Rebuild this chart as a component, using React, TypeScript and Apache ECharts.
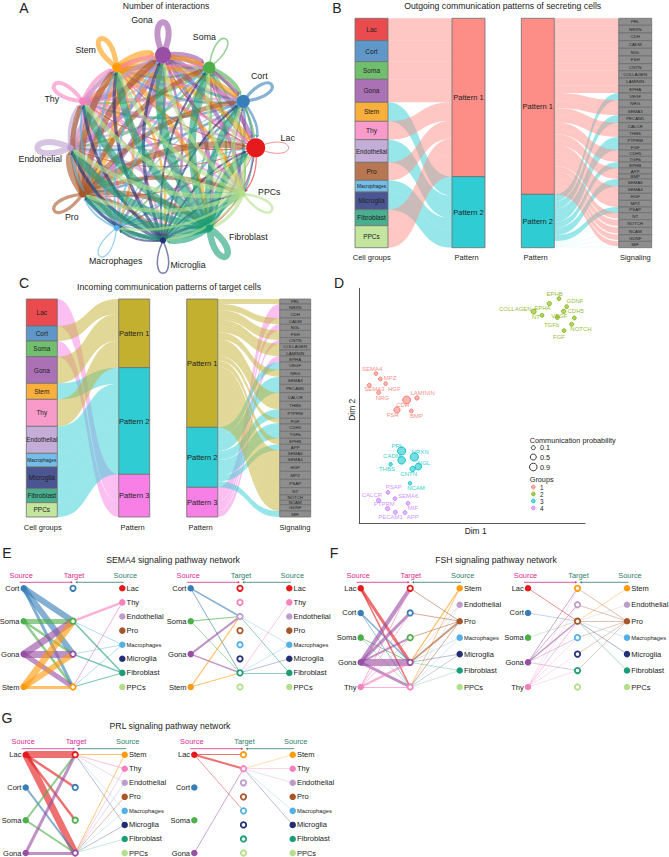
import React, { useEffect, useRef } from "react";
import * as echarts from "echarts";

const FONT = "Liberation Sans";
const cellNames = ["Lac", "Cort", "Soma", "Gona", "Stem", "Thy", "Endothelial", "Pro", "Macrophages", "Microglia", "Fibroblast", "PPCs"];
const cellColors: Record<string, string> = {
  Lac: "#E41A1C", Cort: "#377EB8", Soma: "#4DAF4A", Gona: "#984EA3", Stem: "#FF9A0C", Thy: "#F781BF",
  Endothelial: "#BC9DCC", Pro: "#A65628", Macrophages: "#54B0E4", Microglia: "#222F75", Fibroblast: "#1B9E77", PPCs: "#B2DF8A",
};
const cellTints: Record<string, string> = {
  Lac: "#EA4B4E", Cort: "#5F98C8", Soma: "#71BF6E", Gona: "#AB71B5", Stem: "#F9AF3C", Thy: "#F89BCB",
  Endothelial: "#C4ADD6", Pro: "#B77851", Macrophages: "#74BDE8", Microglia: "#4A5592", Fibroblast: "#48AF8F", PPCs: "#C3E59E",
};

// Panel A: interaction widths, source row -> target column
const interactionWidths = [
  [0.8, 1.2, 1.2, 1.8, 1.2, 1.2, 1.2, 1.2, 0.8, 0.8, 1.2, 1.2],
  [2.5, 3.2, 2.5, 3.2, 2.5, 2.5, 2.5, 2.5, 2, 1.5, 2.5, 2],
  [2, 4, 1.5, 4, 2.5, 2.5, 2.5, 3.2, 1.5, 2, 2.5, 2],
  [5, 4, 5, 6, 5, 5, 5, 5, 2.5, 2.5, 4, 4],
  [5, 5, 5, 6.5, 5, 4, 4, 6.5, 2.5, 2.5, 5, 4],
  [3.2, 2.5, 2.5, 4, 4, 4, 4, 4, 2.5, 2, 4, 3.2],
  [2.5, 2.5, 2.5, 4, 4, 4, 6, 4, 2.5, 2, 4, 2.5],
  [6.5, 5, 5, 6.5, 6.5, 5, 6.5, 3.2, 4, 3.2, 5, 4],
  [1.2, 1.2, 2, 2, 2, 2, 2, 2, 1.2, 1.2, 1.2, 1.2],
  [2, 2, 2, 3.2, 3.2, 3.2, 3.2, 3.2, 2, 1.5, 2.5, 2],
  [7.5, 6.5, 7.5, 9, 7.5, 7.5, 7.5, 9, 5, 5, 6.5, 6.5],
  [4, 4, 4, 4, 4, 4.5, 4.5, 4, 2.5, 2.5, 3.2, 2.5],
];
const nodeSizes = [19, 13, 12, 16, 9, 7.5, 6.5, 7, 6, 6, 7, 5];
const labelOffsets = [[32, -10], [16, -25], [-5, -30], [-21, -35], [-31, -17], [-31, -2], [-30, 11], [-11, 23], [-1, 33], [25, 25], [39, 9], [26, -2]];

// Panel B: outgoing
const outCells: [string, number, number][] = [
  ["Lac", 67, 1], ["Cort", 63, 1], ["Soma", 53, 1], ["Gona", 69, 1], ["Stem", 57, 2], ["Thy", 55, 1],
  ["Endothelial", 68, 2], ["Pro", 54, 1], ["Macrophages", 35, 2], ["Microglia", 53, 2], ["Fibroblast", 48, 1], ["PPCs", 66, 1],
];
const outSignals: [string, number, number][] = [
  ["PRL", 21, 0], ["NRXN", 23, 0], ["CDH", 23, 0], ["CADM", 23, 0], ["NGL", 23, 0], ["FSH", 23, 0], ["CNTN", 21, 0],
  ["COLLAGEN", 22, 0], ["LAMININ", 23, 0], ["EPHA", 22, 0], ["VEGF", 21, 21], ["NRG", 22, 0], ["SEMA3", 23, 0],
  ["PECAM1", 23, 23], ["CALCR", 23, 0], ["THBS", 20, 0], ["PTPRM", 21, 21], ["FGF", 18, 18], ["CDH5", 19, 0], ["TGFb", 17, 0],
  ["EPHB", 18, 18], ["APP", 18, 0], ["BMP", 15, 0], ["SEMA6", 22, 22], ["SEMA4", 21, 0], ["HGF", 21, 0], ["MPZ", 20, 0],
  ["PSAP", 17, 17], ["NT", 21, 4], ["NOTCH", 23, 4], ["NCAM", 22, 4], ["GDNF", 20, 4], ["MIF", 19, 4],
];
// Panel C: incoming
const inCells: [string, number, number][] = [
  ["Lac", 81, 3], ["Cort", 45, 1], ["Soma", 47, 3], ["Gona", 80, 1], ["Stem", 48, 2], ["Thy", 81, 1],
  ["Endothelial", 81, 2], ["Macrophages", 41, 2], ["Microglia", 65, 2], ["Fibroblast", 42, 2], ["PPCs", 43, 2],
];
// [name, total, to pattern 2, to pattern 3]; the rest goes to pattern 1
const inSignals: [string, number, number, number][] = [
  ["PRL", 15, 0, 0], ["NRXN", 18, 0, 18], ["CDH", 24, 0, 24], ["CADM", 19, 0, 0], ["NGL", 18, 0, 18], ["FSH", 22, 0, 0],
  ["CNTN", 18, 0, 11], ["COLLAGEN", 19, 0, 0], ["LAMININ", 18, 0, 0], ["EPHA", 18, 0, 18], ["VEGF", 23, 23, 0], ["NRG", 21, 0, 0],
  ["SEMA3", 23, 23, 0], ["PECAM1", 25, 25, 0], ["CALCR", 26, 0, 0], ["THBS", 24, 0, 0], ["PTPRM", 27, 27, 0], ["FGF", 17, 3, 0],
  ["CDH5", 22, 22, 0], ["TGFb", 21, 21, 0], ["EPHB", 18, 0, 0], ["APP", 18, 18, 0], ["SEMA6", 18, 0, 0], ["SEMA4", 19, 0, 0],
  ["HGF", 26, 0, 0], ["MPZ", 24, 0, 0], ["PSAP", 25, 0, 0], ["NT", 22, 0, 0], ["NOTCH", 16, 0, 0], ["NCAM", 13, 0, 0],
  ["GDNF", 19, 0, 0], ["MIF", 18, 18, 0],
];

// Panel D: [name, dim1, dim2, probability, group]
const embeddingNames = ["SEMA4", "MPZ", "HGF", "SEMA3", "NRG", "LAMININ", "CDH", "FSH", "BMP",
  "EPHB", "GDNF", "EPHA", "COLLAGEN", "CDH5", "NT", "VEGF", "TGFb", "NOTCH", "FGF",
  "PRL", "NRXN", "CADM", "NGL", "CNTN", "THBS", "NCAM",
  "PSAP", "SEMA6", "CALCR", "MIF", "PTPRM", "PECAM1", "APP"];
const embeddingDim1 = [50, 63, 79, 30, 58, 173, 142, 113, 156,
  599, 622, 570, 523, 613, 548, 645, 594, 637, 614,
  127, 165, 127, 177, 160, 94, 152,
  86, 107, 58, 146, 85, 108, 137];
const embeddingDim2 = [449, 433, 419, 414, 392, 376, 370, 340, 337,
  674, 650, 659, 635, 636, 624, 616, 618, 597, 578,
  217, 199, 189, 170, 163, 177, 120,
  93, 74, 69, 60, 44, 33, 32];
const embeddingProb = [0.1, 0.1, 0.1, 0.15, 0.15, 0.2, 0.9, 0.6, 0.1,
  0.1, 0.1, 0.2, 0.35, 0.2, 0.1, 0.1, 0.2, 0.15, 0.1,
  0.95, 0.95, 0.85, 0.65, 0.4, 0.05, 0.05,
  0.1, 0.1, 0.2, 0.1, 0.2, 0.15, 0.1];
const embeddingGroup = [1, 1, 1, 1, 1, 1, 1, 1, 1, 2, 2, 2, 2, 2, 2, 2, 2, 2, 2, 3, 3, 3, 3, 3, 3, 3, 4, 4, 4, 4, 4, 4, 4];
const embeddingLabelOffset = [[-3.7, -4.7], [9.7, -1.3], [8.7, 5], [5, 4], [3.7, 5.3], [5.7, -4.7], [-4, 5], [-4.3, 5.3], [5.3, 5],
  [-4.3, -4.7], [8.3, -5.3], [-7, 4], [-18.3, -3], [12, -0.3], [-6, 1.3], [-15, -2], [-5.7, 7.3], [9.3, 4.3], [-5, 6.7],
  [-4.3, -5], [5.7, -5], [-9.7, -4.7], [5.7, -4], [-4, 4.7], [-3.7, 4.7], [6, 4.7],
  [5.7, -5], [13.3, -2.3], [-6.7, -5], [5, 4.3], [-3.3, -4.3], [-4.7, 4.7], [7.7, 4.7]];
const groupColors = ["#F8766D", "#7CAE00", "#00BFC4", "#C77CFF"];

// Panels E-G: [from column L or R, source, target, width]
type Flow = ["L" | "R", string, string, number];
const sema4Left: Flow[] = [
  ["L", "Cort", "Soma", 6], ["L", "Cort", "Gona", 6], ["L", "Cort", "Stem", 3], ["L", "Soma", "Soma", 5], ["L", "Soma", "Gona", 2.5], ["L", "Soma", "Stem", 2.5],
  ["L", "Gona", "Soma", 7], ["L", "Gona", "Gona", 7], ["L", "Gona", "Stem", 5], ["L", "Stem", "Soma", 7], ["L", "Stem", "Gona", 6], ["L", "Stem", "Stem", 3],
  ["R", "Thy", "Soma", 2.5], ["R", "Thy", "Stem", 1], ["R", "Macrophages", "Soma", 0.7], ["R", "Macrophages", "Gona", 0.7], ["R", "Macrophages", "Stem", 0.7],
  ["R", "Fibroblast", "Soma", 1.5], ["R", "Fibroblast", "Gona", 1.5], ["R", "Fibroblast", "Stem", 1],
];
const sema4Right: Flow[] = [
  ["L", "Cort", "Endothelial", 1.5], ["L", "Cort", "Fibroblast", 1], ["L", "Soma", "Endothelial", 1.2], ["L", "Soma", "Fibroblast", 0.8],
  ["L", "Gona", "Endothelial", 2], ["L", "Gona", "Fibroblast", 1.5], ["L", "Stem", "Endothelial", 1.3], ["L", "Stem", "Fibroblast", 1],
  ["R", "Thy", "Fibroblast", 0.7], ["R", "Macrophages", "Endothelial", 0.5], ["R", "Macrophages", "Fibroblast", 0.5], ["R", "Microglia", "Fibroblast", 0.5],
  ["R", "Fibroblast", "Endothelial", 0.8], ["R", "Fibroblast", "Fibroblast", 0.8],
];
const fshLeft: Flow[] = [
  ["L", "Lac", "Gona", 3], ["L", "Lac", "Thy", 1.5], ["L", "Cort", "Gona", 1.5], ["L", "Cort", "Thy", 0.8], ["L", "Soma", "Gona", 1], ["L", "Soma", "Thy", 0.6],
  ["L", "Gona", "Lac", 4], ["L", "Gona", "Cort", 3], ["L", "Gona", "Soma", 2], ["L", "Gona", "Gona", 7], ["L", "Gona", "Thy", 3],
  ["L", "Thy", "Lac", 1], ["L", "Thy", "Cort", 0.8], ["L", "Thy", "Soma", 0.8], ["L", "Thy", "Gona", 2.5], ["L", "Thy", "Thy", 1],
  ["R", "Stem", "Gona", 1.2], ["R", "Stem", "Thy", 0.8], ["R", "Endothelial", "Gona", 0.5], ["R", "Endothelial", "Thy", 0.4],
  ["R", "Pro", "Lac", 0.8], ["R", "Pro", "Cort", 0.8], ["R", "Pro", "Soma", 0.8], ["R", "Pro", "Gona", 1.8], ["R", "Pro", "Thy", 0.8],
  ["R", "Macrophages", "Gona", 0.5], ["R", "Macrophages", "Thy", 0.4], ["R", "Microglia", "Gona", 0.5], ["R", "Microglia", "Thy", 0.4],
  ["R", "Fibroblast", "Gona", 0.5], ["R", "Fibroblast", "Thy", 0.4],
];
const fshRight: Flow[] = [
  ["L", "Lac", "Pro", 0.8], ["L", "Cort", "Pro", 0.5], ["L", "Soma", "Pro", 0.4], ["L", "Gona", "Stem", 0.8], ["L", "Gona", "Endothelial", 0.7], ["L", "Gona", "Pro", 1.2],
  ["L", "Gona", "Macrophages", 0.5], ["L", "Gona", "Fibroblast", 0.5], ["L", "Thy", "Stem", 0.4], ["L", "Thy", "Endothelial", 0.4], ["L", "Thy", "Pro", 0.8],
  ["L", "Thy", "Macrophages", 0.4], ["L", "Thy", "Microglia", 0.4], ["L", "Thy", "Fibroblast", 0.4],
  ["R", "Stem", "Pro", 0.6], ["R", "Endothelial", "Pro", 0.4], ["R", "Pro", "Stem", 0.6], ["R", "Pro", "Endothelial", 0.6], ["R", "Pro", "Pro", 0.6],
  ["R", "Pro", "Macrophages", 0.5], ["R", "Pro", "Microglia", 0.5], ["R", "Pro", "Fibroblast", 0.5], ["R", "Macrophages", "Pro", 0.4], ["R", "Microglia", "Pro", 0.6], ["R", "Fibroblast", "Pro", 0.6],
];
const prlLeft: Flow[] = [
  ["L", "Lac", "Lac", 7], ["L", "Lac", "Cort", 2.5], ["L", "Lac", "Soma", 2.5], ["L", "Lac", "Gona", 7], ["L", "Cort", "Gona", 2], ["L", "Soma", "Lac", 2], ["L", "Soma", "Gona", 2],
  ["L", "Gona", "Lac", 3], ["L", "Gona", "Gona", 3],
  ["R", "Stem", "Lac", 1], ["R", "Stem", "Gona", 0.9], ["R", "Thy", "Lac", 0.8], ["R", "Thy", "Gona", 0.6], ["R", "Endothelial", "Lac", 0.6], ["R", "Endothelial", "Gona", 0.6],
  ["R", "Pro", "Gona", 0.6], ["R", "Macrophages", "Lac", 0.4], ["R", "Macrophages", "Gona", 0.4], ["R", "Microglia", "Lac", 0.5], ["R", "Microglia", "Gona", 0.5], ["R", "Fibroblast", "Gona", 0.4],
];
const prlRight: Flow[] = [
  ["L", "Lac", "Stem", 1.2], ["L", "Lac", "Thy", 2], ["L", "Lac", "Macrophages", 0.7], ["L", "Gona", "Thy", 0.8],
  ["R", "Stem", "Thy", 0.5], ["R", "Thy", "Thy", 0.5], ["R", "Endothelial", "Thy", 0.5], ["R", "Macrophages", "Thy", 0.4], ["R", "Microglia", "Thy", 0.5],
];

const PINK = "#D6298C";
const GREEN = "#2E7D6B";

function sankey(left: number, top: number, width: number, height: number, nodeWidth: number, nodes: any[], links: any[]) {
  return {
    type: "sankey", left, top, width, height, nodeWidth, nodeGap: 0, layoutIterations: 0, nodeAlign: "justify",
    draggable: false, emphasis: { disabled: true }, data: nodes, links,
    lineStyle: { curveness: 0.55 },
  };
}
function sankeyNode(name: string, fill: string, fontSize: number, border = "#6E6E6E") {
  return {
    name, itemStyle: { color: fill, borderColor: border, borderWidth: 0.8, opacity: 1 },
    label: { show: true, position: "inside", fontSize, fontFamily: FONT, color: "#222", distance: 0 },
  };
}
function cellFont(n: string) { return n === "Macrophages" ? 4.8 : n === "Endothelial" ? 6.3 : 6.5; }
function flowLink(source: string, target: string, value: number, color: string, opacity: number) {
  return { source, target, value, lineStyle: { color, opacity } };
}

const P_COLORS_OUT = ["#FC8D87", "#2FCDD3"];
const P_COLORS_IN = ["#C4B02F", "#2FCDD3", "#F77FE5"];
const L_COLORS_OUT = ["#FF8F87", "#2FCDD3"];

function buildSankeys() {
  const pOut = P_COLORS_OUT.map((c, i) => sankeyNode(`Pattern ${i + 1}`, c, 7.5));
  const pIn = P_COLORS_IN.map((c, i) => sankeyNode(`Pattern ${i + 1}`, c, 7.5));
  const b1 = sankey(355, 18.3, 130, 229.4, 33,
    [...outCells.map(([n]) => sankeyNode(n, cellTints[n], cellFont(n))), ...pOut],
    outCells.map(([n, v, p]) => flowLink(n, `Pattern ${p}`, v, L_COLORS_OUT[p - 1], 0.5)));
  const bLinks: any[] = [];
  outSignals.forEach(([n, total, teal]) => {
    if (total - teal > 0) bLinks.push(flowLink("Pattern 1", n, total - teal, L_COLORS_OUT[0], 0.5));
    if (teal > 0) bLinks.push(flowLink("Pattern 2", n, teal, L_COLORS_OUT[1], teal < 5 ? 0.06 : 0.5));
  });
  const b2 = sankey(521.3, 18.3, 130.4, 229.4, 33,
    [...pOut, ...outSignals.map(([n]) => sankeyNode(n, "#8E8E8E", 4.4))], bLinks);
  const c1 = sankey(26.3, 299, 123.4, 218, 31,
    [...inCells.map(([n]) => sankeyNode(n, cellTints[n], cellFont(n))), ...pIn],
    inCells.map(([n, v, p]) => flowLink(n, `Pattern ${p}`, v, P_COLORS_IN[p - 1], 0.5)));
  const cLinks: any[] = [];
  inSignals.forEach(([n, total, p2, p3]) => {
    if (total - p2 - p3 > 0) cLinks.push(flowLink("Pattern 1", n, total - p2 - p3, P_COLORS_IN[0], 0.5));
    if (p2 > 0) cLinks.push(flowLink("Pattern 2", n, p2, P_COLORS_IN[1], 0.5));
    if (p3 > 0) cLinks.push(flowLink("Pattern 3", n, p3, P_COLORS_IN[2], 0.5));
  });
  const c2 = sankey(186.7, 299, 124, 218, 31,
    [...pIn, ...inSignals.map(([n]) => sankeyNode(n, "#8E8E8E", 4.4))], cLinks);
  return [b1, b2, c1, c2];
}

function buildCircle() {
  const edges: [number, number, number][] = [];
  interactionWidths.forEach((row, s) => row.forEach((w, t) => edges.push([s, t, w])));
  const edgeSeries = {
    type: "custom", coordinateSystem: "polar", silent: true, clip: false,
    data: edges.map((e) => [1, e[0]]), encode: { radius: 0, angle: 1 },
    renderItem(params: any, api: any) {
      const [s, t, w] = edges[params.dataIndex];
      const color = cellColors[cellNames[s]];
      const p = api.coord([1, s]);
      const style = { stroke: color, lineWidth: w, fill: "none", opacity: 0.6 };
      if (s === t) {
        const c = api.coord([0, 0]);
        const a = Math.atan2(p[1] - c[1], p[0] - c[0]);
        const L = 48, th = 0.42;
        return {
          type: "bezierCurve",
          shape: {
            x1: p[0], y1: p[1], x2: p[0], y2: p[1],
            cpx1: p[0] + L * Math.cos(a + th), cpy1: p[1] + L * Math.sin(a + th),
            cpx2: p[0] + L * Math.cos(a - th), cpy2: p[1] + L * Math.sin(a - th),
          },
          style,
        };
      }
      const q = api.coord([1, t]);
      const dx = q[0] - p[0], dy = q[1] - p[1];
      const cx = (p[0] + q[0]) / 2 + dy * 0.2, cy = (p[1] + q[1]) / 2 - dx * 0.2;
      const ex = q[0] - cx, ey = q[1] - cy;
      const el = Math.hypot(ex, ey) || 1;
      const ux = ex / el, uy = ey / el;
      const rt = nodeSizes[t] / 2;
      const len = 2.5 + w * 0.35, hw = 1.3 + w * 0.3;
      const tipX = q[0] - ux * rt, tipY = q[1] - uy * rt;
      const baseX = tipX - ux * len, baseY = tipY - uy * len;
      return {
        type: "group",
        children: [
          { type: "bezierCurve", shape: { x1: p[0], y1: p[1], x2: baseX, y2: baseY, cpx1: cx, cpy1: cy }, style },
          {
            type: "polygon",
            shape: { points: [[tipX, tipY], [baseX - uy * hw, baseY + ux * hw], [baseX + uy * hw, baseY - ux * hw]] },
            style: { fill: color, opacity: 0.8 },
          },
        ],
      };
    },
  };
  const nodeSeries = {
    type: "scatter", coordinateSystem: "polar", silent: true, z: 5,
    data: cellNames.map((n, i) => ({
      name: n, value: [1, i], symbolSize: nodeSizes[i], itemStyle: { color: cellColors[n], opacity: 1 },
      label: { show: true, position: "inside", offset: labelOffsets[i], formatter: "{b}", fontSize: 8.8, fontFamily: FONT, color: "#222" },
    })),
  };
  return [edgeSeries, nodeSeries];
}

function buildScatter(gridIndex: number) {
  return {
    type: "scatter", xAxisIndex: gridIndex, yAxisIndex: gridIndex, silent: true, z: 4,
    data: embeddingNames.map((n, i) => {
      const color = groupColors[embeddingGroup[i] - 1];
      return {
        name: n, value: [embeddingDim1[i], embeddingDim2[i]], symbolSize: 3.2 + 5.2 * embeddingProb[i],
        itemStyle: { color: color + "88", borderColor: color, borderWidth: 0.9, opacity: 1 },
        label: { show: true, position: "inside", offset: embeddingLabelOffset[i], formatter: "{b}", fontSize: 6, fontFamily: FONT, color, opacity: 0.85 },
      };
    }),
  };
}

type Panel = { title?: string; top: number; bottom: number; cols: number[]; left: string[]; mid: string[]; right: string[]; flows: Flow[]; targetPink: boolean };

const panels: Panel[] = [
  { top: 588.3, bottom: 687, cols: [23.7, 73.3, 122.3], left: ["Cort", "Soma", "Gona", "Stem"], mid: ["Cort", "Soma", "Gona", "Stem"],
    right: ["Lac", "Thy", "Endothelial", "Pro", "Macrophages", "Microglia", "Fibroblast", "PPCs"], flows: sema4Left, targetPink: true },
  { top: 588.3, bottom: 687, cols: [190.7, 240.3, 289.3], left: ["Cort", "Soma", "Gona", "Stem"],
    mid: ["Lac", "Thy", "Endothelial", "Pro", "Macrophages", "Microglia", "Fibroblast", "PPCs"],
    right: ["Lac", "Thy", "Endothelial", "Pro", "Macrophages", "Microglia", "Fibroblast", "PPCs"], flows: sema4Right, targetPink: false },
  { top: 588.3, bottom: 687, cols: [360.7, 410, 459.7], left: ["Lac", "Cort", "Soma", "Gona", "Thy"], mid: ["Lac", "Cort", "Soma", "Gona", "Thy"],
    right: ["Stem", "Endothelial", "Pro", "Macrophages", "Microglia", "Fibroblast", "PPCs"], flows: fshLeft, targetPink: true },
  { top: 588.3, bottom: 687, cols: [528, 577.7, 627], left: ["Lac", "Cort", "Soma", "Gona", "Thy"],
    mid: ["Stem", "Endothelial", "Pro", "Macrophages", "Microglia", "Fibroblast", "PPCs"],
    right: ["Stem", "Endothelial", "Pro", "Macrophages", "Microglia", "Fibroblast", "PPCs"], flows: fshRight, targetPink: false },
  { top: 754.7, bottom: 853, cols: [25.7, 75.3, 124.7], left: ["Lac", "Cort", "Soma", "Gona"], mid: ["Lac", "Cort", "Soma", "Gona"],
    right: ["Stem", "Thy", "Endothelial", "Pro", "Macrophages", "Microglia", "Fibroblast", "PPCs"], flows: prlLeft, targetPink: true },
  { top: 754.7, bottom: 853, cols: [194.3, 243.7, 292.7], left: ["Lac", "Cort", "Soma", "Gona"],
    mid: ["Stem", "Thy", "Endothelial", "Pro", "Macrophages", "Microglia", "Fibroblast", "PPCs"],
    right: ["Stem", "Thy", "Endothelial", "Pro", "Macrophages", "Microglia", "Fibroblast", "PPCs"], flows: prlRight, targetPink: false },
];

function buildPanel(pn: Panel, idx: number) {
  const nodes: any[] = [];
  const addCol = (names: string[], x: number, prefix: string) => {
    names.forEach((n, i) => {
      const hollow = prefix === "M";
      const side = prefix === "L" ? "left" : "right";
      nodes.push({
        id: `${prefix}-${n}`, name: n, value: [x, names.length > 1 ? i / (names.length - 1) : 0],
        symbol: "circle", symbolSize: hollow ? 5.4 : 6.5,
        itemStyle: hollow ? { color: "#fff", borderColor: cellColors[n], borderWidth: 1.8, opacity: 1 } : { color: cellColors[n], opacity: 1 },
        label: hollow ? { show: false } : { show: true, position: side, distance: 1, fontSize: n === "Macrophages" ? 5.75 : 7.5, fontFamily: FONT, color: "#222" },
      });
    });
  };
  addCol(pn.left, 0, "L");
  addCol(pn.mid, 1, "M");
  addCol(pn.right, 2, "R");
  const links = pn.flows.map(([side, s, t, w]) => ({
    source: `${side}-${s}`, target: `M-${t}`,
    lineStyle: { color: cellColors[s], width: w, opacity: 0.62, curveness: 0 },
  }));
  return {
    type: "graph", coordinateSystem: "cartesian2d", xAxisIndex: idx, yAxisIndex: idx, silent: true,
    edgeSymbol: ["none", "none"], data: nodes, links, z: 3, emphasis: { disabled: true },
  };
}

function txt(text: string, x: number, y: number, fontSize: number, fill = "#222", textAlign = "center", extra: any = {}) {
  return { type: "text", x, y, silent: true, style: { text, fontSize, fontFamily: FONT, fill, textAlign, textVerticalAlign: "middle" }, ...extra };
}

function buildGraphic() {
  const g: any[] = [
    txt("A", 24, 8, 14), txt("B", 337, 8, 14), txt("C", 24, 283, 14), txt("D", 339, 283, 14),
    txt("E", 7, 553, 14), txt("F", 334, 553, 14), txt("G", 7, 718, 14),
    txt("Number of interactions", 166, 5.5, 8.6),
    txt("Outgoing communication patterns of secreting cells", 502.7, 6, 8.7),
    txt("Incoming communication patterns of target cells", 169, 287, 8.7),
    txt("SEMA4 signaling pathway network", 173, 559.5, 8.7),
    txt("FSH signaling pathway network", 496, 559.5, 8.7),
    txt("PRL signaling pathway network", 170, 725.5, 8.7),
    txt("Cell groups", 371.7, 257.7, 7.5), txt("Pattern", 466.7, 257.7, 7.5), txt("Pattern", 535.7, 257.7, 7.5), txt("Signaling", 635.3, 257.7, 7.5),
    txt("Cell groups", 42.7, 527.7, 7.5), txt("Pattern", 132.7, 527.7, 7.5), txt("Pattern", 200.7, 527.7, 7.5), txt("Signaling", 295, 527.7, 7.5),
    txt("Communication probability", 529.7, 440, 7.3, "#222", "left"),
    txt("Groups", 529.7, 479.3, 7.3, "#222", "left"),
  ];
  [["0.1", 447.7, 2], ["0.5", 457, 3], ["0.9", 467, 3.8]].forEach(([l, y, r]: any) => {
    g.push({ type: "circle", silent: true, shape: { cx: 533.3, cy: y, r }, style: { fill: "none", stroke: "#222", lineWidth: 0.9 } });
    g.push(txt(l, 540, y, 7.3, "#222", "left"));
  });
  groupColors.forEach((c, i) => {
    const y = [487, 494, 501, 508][i];
    g.push({ type: "circle", silent: true, shape: { cx: 533.3, cy: y, r: 1.9 }, style: { fill: c + "99", stroke: c, lineWidth: 0.7 } });
    g.push(txt(String(i + 1), 540, y, 6.4, "#222", "left"));
  });
  panels.forEach((pn) => {
    const [a, b, c] = pn.cols;
    const ly = pn.top - 6, ty = pn.top - 13;
    g.push(txt("Source", a - 2.5, ty, 7.4, PINK));
    g.push(txt("Target", b + 0.8, ty - 0.3, 7.4, pn.targetPink ? PINK : GREEN));
    g.push(txt("Source", c + 3, ty, 7.4, GREEN));
    g.push({ type: "line", silent: true, shape: { x1: a - 4, y1: ly, x2: b - 1.5, y2: ly }, style: { stroke: PINK, lineWidth: 0.8 } });
    g.push({ type: "polygon", silent: true, shape: { points: [[b - 0.5, ly], [b - 2.5, ly - 1.2], [b - 2.5, ly + 1.2]] }, style: { fill: PINK } });
    g.push({ type: "line", silent: true, shape: { x1: c + 1.5, y1: ly, x2: b + 3, y2: ly }, style: { stroke: GREEN, lineWidth: 0.8 } });
    g.push({ type: "polygon", silent: true, shape: { points: [[b + 2, ly], [b + 4, ly - 1.2], [b + 4, ly + 1.2]] }, style: { fill: GREEN } });
  });
  return g;
}

export default function App() {
  const ref = useRef<HTMLDivElement>(null);
  useEffect(() => {
    const chart = echarts.init(ref.current!, null, { renderer: "svg", width: 669, height: 857 });
    const grids: any[] = panels.map((p) => ({ left: p.cols[0], top: p.top, width: p.cols[2] - p.cols[0], height: p.bottom - p.top, show: false, containLabel: false }));
    const xAxes: any[] = panels.map((_, i) => ({ type: "value", gridIndex: i, min: 0, max: 2, show: false }));
    const yAxes: any[] = panels.map((_, i) => ({ type: "value", gridIndex: i, min: 0, max: 1, inverse: true, show: false }));
    const scatterIdx = panels.length;
    grids.push({ left: 359.3, top: 288.3, width: 225.7, height: 235, show: false });
    const axisLine = { show: true, onZero: false, lineStyle: { color: "#555", width: 1 } };
    xAxes.push({
      type: "value", gridIndex: scatterIdx, min: 0, max: 677, axisLine, axisTick: { show: false }, axisLabel: { show: false }, splitLine: { show: false },
      name: "Dim 1", nameLocation: "middle", nameGap: 3.5, nameTextStyle: { fontSize: 8.4, fontFamily: FONT, color: "#222", padding: [0, 0, 0, 7] },
    });
    yAxes.push({
      type: "value", gridIndex: scatterIdx, min: 0, max: 705, axisLine, axisTick: { show: false }, axisLabel: { show: false }, splitLine: { show: false },
      name: "Dim 2", nameLocation: "middle", nameGap: 3.5, nameTextStyle: { fontSize: 8.4, fontFamily: FONT, color: "#222", padding: [0, 8, 0, 0] },
    });
    chart.setOption({
      animation: false,
      backgroundColor: "#fff",
      textStyle: { fontFamily: FONT },
      polar: { center: [163, 147.7], radius: 92.7 },
      angleAxis: { type: "category", data: cellNames, boundaryGap: false, startAngle: 0, clockwise: false, axisLine: { show: false }, axisTick: { show: false }, axisLabel: { show: false }, splitLine: { show: false } },
      radiusAxis: { type: "value", min: 0, max: 1, axisLine: { show: false }, axisTick: { show: false }, axisLabel: { show: false }, splitLine: { show: false } },
      grid: grids, xAxis: xAxes, yAxis: yAxes,
      graphic: buildGraphic(),
      series: [...buildCircle(), ...buildSankeys(), buildScatter(scatterIdx), ...panels.map(buildPanel)],
    });
    return () => chart.dispose();
  }, []);
  return <div ref={ref} style={{ position: "absolute", left: 0, top: 0, width: 669, height: 857, background: "#fff" }} />;
}
